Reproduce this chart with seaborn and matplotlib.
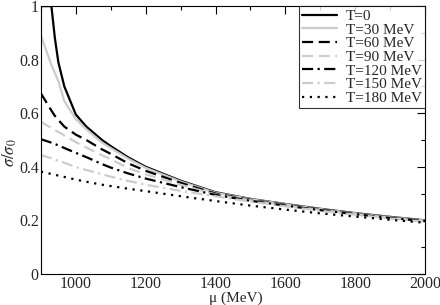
import pandas as pd
import matplotlib
matplotlib.use("Agg")
import matplotlib.pyplot as plt
import seaborn as sns
from matplotlib.ticker import MultipleLocator

# chemical potential grid (MeV)
mu = [900, 930, 940, 950, 967, 1000, 1030, 1075, 1100, 1150, 1200,
      1300, 1400, 1500, 1600, 1700, 1800, 1900, 2000]

# sigma / sigma_0 for each temperature
t0 = [1.0, 1.0, 0.88, 0.79, 0.70, 0.595, 0.55, 0.50, 0.477, 0.435, 0.40,
      0.348, 0.305, 0.280, 0.261, 0.243, 0.227, 0.213, 0.200]
t30 = [0.89, 0.78, 0.75, 0.72, 0.645, 0.578, 0.54, 0.49, 0.47, 0.43, 0.396,
       0.345, 0.303, 0.279, 0.260, 0.242, 0.226, 0.212, 0.199]
t60 = [0.674, 0.61, 0.59, 0.575, 0.55, 0.52, 0.50, 0.465, 0.448, 0.413, 0.385,
       0.340, 0.300, 0.277, 0.258, 0.241, 0.225, 0.211, 0.198]
t90 = [0.568, 0.545, 0.537, 0.53, 0.517, 0.492, 0.472, 0.443, 0.428, 0.395, 0.372,
       0.333, 0.297, 0.275, 0.256, 0.239, 0.224, 0.210, 0.197]
t120 = [0.503, 0.49, 0.485, 0.48, 0.47, 0.452, 0.436, 0.41, 0.397, 0.375, 0.356,
        0.324, 0.295, 0.273, 0.255, 0.238, 0.223, 0.209, 0.197]
t150 = [0.444, 0.432, 0.427, 0.422, 0.415, 0.399, 0.388, 0.372, 0.363, 0.347, 0.333,
        0.310, 0.290, 0.270, 0.252, 0.236, 0.221, 0.207, 0.195]
t180 = [0.382, 0.373, 0.37, 0.367, 0.362, 0.352, 0.344, 0.333, 0.328, 0.318, 0.309,
        0.290, 0.272, 0.255, 0.240, 0.226, 0.214, 0.202, 0.191]

labels = ["T=0", "T=30 MeV", "T=60 MeV", "T=90 MeV", "T=120 MeV", "T=150 MeV", "T=180 MeV"]
series = [t0, t30, t60, t90, t120, t150, t180]

gray = "#cccccc"
styles = [
    ("black", "-"),
    (gray, "-"),
    ("black", (0, (5, 2.5))),
    (gray, (0, (5, 2.5))),
    ("black", (0, (5, 2, 1, 2))),
    (gray, (0, (5, 2, 1, 2))),
    ("black", (0, (1, 2.5))),
]

sns.set_style("white")
plt.rcParams["font.family"] = ["Liberation Serif", "DejaVu Serif"]
plt.rcParams["mathtext.fontset"] = "stix"

fig, ax = plt.subplots(figsize=(4.4, 3.05), dpi=100)
fig.subplots_adjust(left=0.093, right=0.966, top=0.98, bottom=0.102)

for lab, vals, (col, ls) in zip(labels, series, styles):
    df = pd.DataFrame({"mu": mu, "ratio": vals})
    sns.lineplot(data=df, x="mu", y="ratio", ax=ax, color=col, linestyle=ls,
                 linewidth=1.6, label=lab)

ax.set_xlim(900, 2000)
ax.set_ylim(0, 1)
ax.set_xticks([1000, 1200, 1400, 1600, 1800, 2000])
ax.xaxis.set_minor_locator(MultipleLocator(100))
ax.set_yticks([0, 0.2, 0.4, 0.6, 0.8, 1])
ax.set_yticklabels(["0", "0.2", "0.4", "0.6", "0.8", "1"])
ax.yaxis.set_minor_locator(MultipleLocator(0.1))
ax.tick_params(which="both", direction="in", top=True, right=True, labelsize=11.5,
               color="black", width=0.8, pad=1.5)
ax.tick_params(which="major", length=6)
ax.tick_params(which="minor", length=3)
for s in ax.spines.values():
    s.set_color("black")
    s.set_linewidth(0.8)

ax.set_xlabel("μ (MeV)", fontsize=11, va="bottom")
ax.xaxis.set_label_coords(0.535, 0.0, transform=fig.transFigure)
ax.set_ylabel(r"$\sigma/\sigma_0$", fontsize=12, va="center")
ax.yaxis.set_label_coords(0.022, 0.5, transform=fig.transFigure)

leg = ax.legend(loc="upper right", fontsize=11, frameon=True, fancybox=False,
                borderaxespad=0, handlelength=2.3, labelspacing=0.0,
                borderpad=0.2, handletextpad=0.6)
leg.get_frame().set_edgecolor("black")
leg.get_frame().set_linewidth(0.8)

fig.savefig("out.png", dpi=100)
